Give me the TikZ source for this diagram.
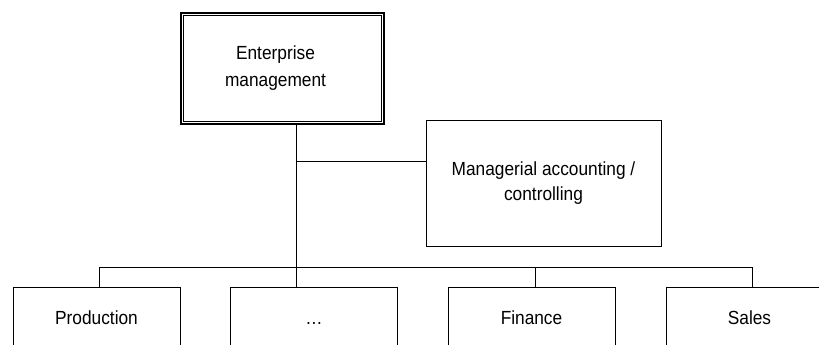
\documentclass[tikz,border=0pt]{standalone}
\usepackage{fontspec}
\setmainfont{Liberation Sans}[FakeStretch=0.91]
\begin{document}
\begin{tikzpicture}[x=1pt,y=-1pt,
  line width=1pt,
  box/.style={draw, line width=1pt, inner sep=0pt, align=center,
    font=\fontsize{19}{27}\selectfont},
  unit/.style={box, minimum width=167pt, anchor=north,
    text height=37pt, text depth=83pt, minimum height=120pt},
  link/.style={draw, line width=1pt}]
\useasboundingbox (0,0) rectangle (819,345);
\begin{scope}
\clip (0,0) rectangle (819,345);
% top box (double border)
\node[box, line width=2pt, minimum width=203pt, minimum height=111pt]
  (top) at (282.5,68.5) {\hspace*{-14pt}Enterprise\\\hspace*{-14pt}management};
\draw[line width=0.8pt] ([shift={(3.5pt,-3.5pt)}]top.north west)
  rectangle ([shift={(-3.5pt,3.5pt)}]top.south east);
% managerial accounting box
\node[box, minimum width=235pt, minimum height=126pt]
  (mgr) at (543.5,183) {Managerial accounting /\\[-2pt]controlling};
% bottom units
\node[unit] (prod) at (96.5,287) {Production};
\node[unit] (dots) at (314,287) {\ldots};
\node[unit] (fin) at (531.5,287) {Finance};
\node[unit] (sales) at (749.5,287) {Sales};
% connectors
\coordinate (trunk) at (296,124);
\coordinate (side) at (296,161);
\coordinate (busc) at (296,267);
\coordinate (bl) at (99,267);
\coordinate (bf) at (535,267);
\coordinate (br) at (752,267);
\draw[link] (trunk) -- (trunk |- dots.north);
\draw[link] (side) -- (side -| mgr.west);
\draw[link] (bl) -- (br);
\draw[link] (bl) -- (bl |- prod.north);
\draw[link] (bf) -- (bf |- fin.north);
\draw[link] (br) -- (br |- sales.north);
\end{scope}
\end{tikzpicture}
\end{document}
